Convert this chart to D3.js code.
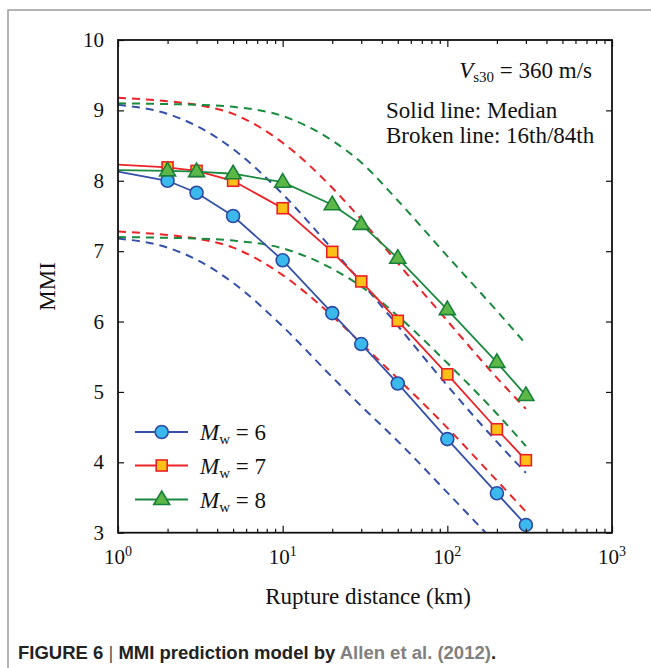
<!DOCTYPE html>
<html>
<head>
<meta charset="utf-8">
<script src="https://cdn.jsdelivr.net/npm/d3@7"></script>
<style>
  body { margin: 0; background: #fff; }
  svg { display: block; }
  .serif { font-family: "Liberation Serif", "Times New Roman", serif; fill: #111; }
</style>
</head>
<body>
<svg id="chart"></svg>
<script>
var width = 651,
    height = 668;

// rupture distance (km)
var distances = [1, 2, 3, 5, 10, 20, 30, 50, 100, 200, 300];

// median MMI
var mw6Median = [8.13, 8.00, 7.83, 7.50, 6.87, 6.12, 5.68, 5.12, 4.33, 3.56, 3.11];
var mw7Median = [8.23, 8.19, 8.14, 8.00, 7.61, 6.99, 6.57, 6.01, 5.25, 4.47, 4.03];
var mw8Median = [8.15, 8.14, 8.13, 8.10, 7.98, 7.66, 7.38, 6.90, 6.17, 5.42, 4.95];

// 84th percentile
var mw6Upper = [9.08, 8.95, 8.78, 8.45, 7.81, 7.03, 6.56, 5.94, 5.09, 4.29, 3.85];
var mw7Upper = [9.18, 9.13, 9.08, 8.95, 8.54, 7.90, 7.45, 6.83, 6.01, 5.20, 4.76];
var mw8Upper = [9.10, 9.09, 9.08, 9.05, 8.92, 8.57, 8.26, 7.72, 6.93, 6.15, 5.68];

// 16th percentile
var mw6Lower = [7.18, 7.05, 6.88, 6.55, 5.93, 5.21, 4.80, 4.30, 3.57, 2.83, 2.39];
var mw7Lower = [7.28, 7.23, 7.18, 7.05, 6.66, 6.08, 5.69, 5.19, 4.49, 3.74, 3.30];
var mw8Lower = [7.20, 7.19, 7.18, 7.15, 7.04, 6.75, 6.50, 6.08, 5.41, 4.69, 4.23];

var xTicks = [1, 10, 100, 1000];
var yTicks = [3, 4, 5, 6, 7, 8, 9, 10];

var series = [
  { label: "6", median: mw6Median, upper: mw6Upper, lower: mw6Lower,
    line: "#3450a8", fill: "#3cb9ec", stroke: "#2d4aa3", shape: "circle" },
  { label: "7", median: mw7Median, upper: mw7Upper, lower: mw7Lower,
    line: "#ec2327", fill: "#fcc016", stroke: "#ea1f26", shape: "square" },
  { label: "8", median: mw8Median, upper: mw8Upper, lower: mw8Lower,
    line: "#1b8a3e", fill: "#5cb747", stroke: "#18803a", shape: "triangle" }
];

var plotLeft = 118, plotRight = 612, plotTop = 40, plotBottom = 532.7;

var x = d3.scaleLog().domain([1, 1000]).range([plotLeft, plotRight]);
var y = d3.scaleLinear().domain([3, 10]).range([plotBottom, plotTop]);

var svg = d3.select("#chart")
  .attr("width", width)
  .attr("height", height);

// outer frame
svg.append("path")
  .attr("d", "M651,10 H8 V668")
  .attr("fill", "none")
  .attr("stroke", "#9c9c9c")
  .attr("stroke-width", 1.5);

svg.append("clipPath")
    .attr("id", "plotClip")
  .append("rect")
    .attr("x", plotLeft).attr("y", plotTop)
    .attr("width", plotRight - plotLeft).attr("height", plotBottom - plotTop);

var line = d3.line()
  .x(function (d) { return x(d[0]); })
  .y(function (d) { return y(d[1]); });

var smooth = d3.line()
  .x(function (d) { return x(d[0]); })
  .y(function (d) { return y(d[1]); })
  .curve(d3.curveMonotoneX);

// dashed percentile curves
var dashG = svg.append("g").attr("clip-path", "url(#plotClip)");
series.forEach(function (s) {
  [s.upper, s.lower].forEach(function (vals) {
    dashG.append("path")
      .datum(distances.map(function (d, i) { return [d, vals[i]]; }))
      .attr("d", smooth)
      .attr("fill", "none")
      .attr("stroke", s.line)
      .attr("stroke-width", 2)
      .attr("stroke-dasharray", "8,6");
  });
});

// marker drawing
function marker(g, s, cx, cy) {
  if (s.shape === "circle") {
    g.append("circle").attr("cx", cx).attr("cy", cy).attr("r", 6.5)
      .attr("fill", s.fill).attr("stroke", s.stroke).attr("stroke-width", 1.6);
  } else if (s.shape === "square") {
    g.append("rect").attr("x", cx - 5.5).attr("y", cy - 5.5)
      .attr("width", 11).attr("height", 11)
      .attr("fill", s.fill).attr("stroke", s.stroke).attr("stroke-width", 1.6);
  } else {
    g.append("path")
      .attr("d", "M" + cx + "," + (cy - 8.5) + " L" + (cx + 8) + "," + (cy + 5) +
        " L" + (cx - 8) + "," + (cy + 5) + "Z")
      .attr("fill", s.fill).attr("stroke", s.stroke).attr("stroke-width", 1.6);
  }
}

// median lines + markers
series.forEach(function (s) {
  var pts = distances.map(function (d, i) { return [d, s.median[i]]; });
  svg.append("path")
    .datum(pts)
    .attr("d", line)
    .attr("fill", "none")
    .attr("stroke", s.line)
    .attr("stroke-width", 1.8);
  var g = svg.append("g");
  pts.slice(1).forEach(function (p) { marker(g, s, x(p[0]), y(p[1])); });
});

// axes
var minor = [];
[1, 10, 100].forEach(function (dec) {
  for (var k = 2; k <= 9; k++) minor.push(dec * k);
});

function styleAxis(g) {
  g.select(".domain").remove();
  g.selectAll("line").attr("stroke", "#111").attr("stroke-width", 1.2);
}

svg.append("g").attr("transform", "translate(0," + plotBottom + ")")
  .call(d3.axisBottom(x).tickValues(xTicks).tickSize(-7).tickFormat("")).call(styleAxis);
svg.append("g").attr("transform", "translate(0," + plotBottom + ")")
  .call(d3.axisBottom(x).tickValues(minor).tickSize(-4).tickFormat("")).call(styleAxis);
svg.append("g").attr("transform", "translate(0," + plotTop + ")")
  .call(d3.axisTop(x).tickValues(xTicks).tickSize(-7).tickFormat("")).call(styleAxis);
svg.append("g").attr("transform", "translate(0," + plotTop + ")")
  .call(d3.axisTop(x).tickValues(minor).tickSize(-4).tickFormat("")).call(styleAxis);
svg.append("g").attr("transform", "translate(" + plotLeft + ",0)")
  .call(d3.axisLeft(y).tickValues(yTicks).tickSize(-6).tickFormat("")).call(styleAxis);
svg.append("g").attr("transform", "translate(" + plotRight + ",0)")
  .call(d3.axisRight(y).tickValues(yTicks).tickSize(-6).tickFormat("")).call(styleAxis);

svg.append("rect")
  .attr("x", plotLeft).attr("y", plotTop)
  .attr("width", plotRight - plotLeft).attr("height", plotBottom - plotTop)
  .attr("fill", "none")
  .attr("stroke", "#111")
  .attr("stroke-width", 1.8);

// tick labels
svg.selectAll(".ylab")
  .data(yTicks)
  .enter().append("text")
    .attr("class", "serif")
    .attr("x", plotLeft - 14)
    .attr("y", function (d) { return y(d) + 7; })
    .attr("text-anchor", "end")
    .attr("font-size", 21)
    .text(function (d) { return d; });

xTicks.forEach(function (d) {
  var t = svg.append("text")
    .attr("class", "serif")
    .attr("x", x(d))
    .attr("y", plotBottom + 31)
    .attr("text-anchor", "middle")
    .attr("font-size", 21);
  t.append("tspan").text("10");
  t.append("tspan").attr("font-size", 14).attr("dy", -8)
    .text(Math.round(Math.log10(d)));
});

// axis titles
svg.append("text")
  .attr("class", "serif")
  .attr("x", 368)
  .attr("y", 604)
  .attr("text-anchor", "middle")
  .attr("font-size", 23)
  .text("Rupture distance (km)");

svg.append("text")
  .attr("class", "serif")
  .attr("transform", "translate(55," + ((plotTop + plotBottom) / 2) + ") rotate(-90)")
  .attr("text-anchor", "middle")
  .attr("font-size", 23)
  .text("MMI");

// annotations
var vs = svg.append("text")
  .attr("class", "serif")
  .attr("x", 592)
  .attr("y", 78)
  .attr("text-anchor", "end")
  .attr("font-size", 23);
vs.append("tspan").attr("font-style", "italic").text("V");
vs.append("tspan").attr("font-size", 15).attr("dy", 4).text("s30");
vs.append("tspan").attr("dy", -4).text(" = 360 m/s");

svg.append("text").attr("class", "serif")
  .attr("x", 386).attr("y", 118).attr("font-size", 23)
  .text("Solid line: Median");
svg.append("text").attr("class", "serif")
  .attr("x", 386).attr("y", 143).attr("font-size", 23)
  .text("Broken line: 16th/84th");

// legend
var legendY = [432, 465.5, 499.5];
series.forEach(function (s, i) {
  var g = svg.append("g");
  g.append("line")
    .attr("x1", 135).attr("x2", 188)
    .attr("y1", legendY[i]).attr("y2", legendY[i])
    .attr("stroke", s.line).attr("stroke-width", 1.8);
  marker(g, s, 161.7, legendY[i]);
  var t = g.append("text")
    .attr("class", "serif")
    .attr("x", 200)
    .attr("y", legendY[i] + 8)
    .attr("font-size", 23);
  t.append("tspan").attr("font-style", "italic").text("M");
  t.append("tspan").attr("font-size", 15).attr("dy", 4).text("w");
  t.append("tspan").attr("dy", -4).text(" = " + s.label);
});

// caption
var cap = svg.append("text")
  .attr("x", 18)
  .attr("y", 659)
  .attr("font-family", "'Liberation Sans', Arial, sans-serif")
  .attr("font-size", 18.5)
  .attr("font-weight", "bold")
  .attr("fill", "#222");
cap.append("tspan").text("FIGURE 6 ");
cap.append("tspan").attr("font-weight", "normal").attr("fill", "#555").text("|");
cap.append("tspan").text(" MMI prediction model by ");
cap.append("tspan").attr("fill", "#808080").text("Allen et al. (2012)");
cap.append("tspan").text(".");
</script>
</body>
</html>
